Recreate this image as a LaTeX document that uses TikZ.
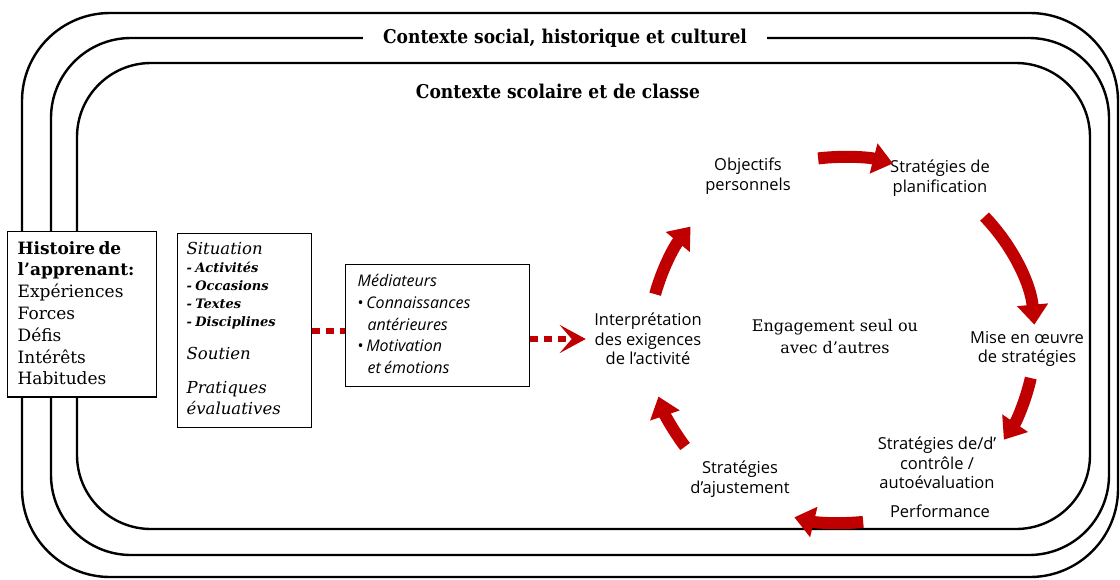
\documentclass[tikz,border=0pt]{standalone}
\usepackage{fontspec}
\setmainfont{DejaVu Serif}
\newfontfamily\titlef{DejaVu Serif Condensed}
\newfontfamily\sansf{Open Sans}
\usetikzlibrary{arrows.meta}
\definecolor{cred}{RGB}{192,0,0}
\newcommand{\fs}[2]{\fontsize{#1}{#2}\selectfont}

\begin{document}
\begin{tikzpicture}[x=1pt, y=-1pt,
		ctx/.style={line width=2.4pt, rounded corners=#1},
		box/.style={draw, line width=1.3pt, fill=white, anchor=north west, align=left, inner ysep=4pt},
		lab/.style={font=\sansf\fs{16.5}{19.5}, align=center},
		cyc/.style={draw=cred, line width=12pt, -{Triangle[length=20pt,width=30pt]}},
		dotl/.style={draw=cred, line width=6pt, dash pattern=on 8pt off 6pt}]
		\useasboundingbox (0,0) rectangle (1120,579);
		
		% contextes
		\draw[ctx=88pt] (22,13) rectangle (1118,577);
		\draw[ctx=80pt] (51,38) rectangle (1109,555);
		\draw[ctx=74pt] (77,63) rectangle (1090,529);
		\draw (565,38) node[fill=white, inner xsep=20pt, font=\titlef\bfseries\fs{19}{22}] (soc) {Contexte social, historique et culturel};
		\draw (558,91) node[font=\titlef\bfseries\fs{19}{22}] (scol) {Contexte scolaire et de classe};
		
		% boites de gauche
		\draw (7,231) node[box, inner xsep=10pt, text width=129pt] (hist) {\bfseries\fs{17}{21.8}\rule{0pt}{18.5pt}Histoire de\par l’apprenant:\par
			\mdseries Expériences\par Forces\par Défis\par Intérêts\par Habitudes\rule[-8pt]{0pt}{8pt}\par};
		\draw (177,233) node[box, inner xsep=9pt, text width=116pt] (sit) {\itshape\fs{16.5}{21}\rule{0pt}{17pt}Situation\par
			\bfseries\fs{13}{18}- Activités\par - Occasions\par - Textes\par - Disciplines\par
			\mdseries\fs{16.5}{33}Soutien\par \fs{16.5}{34}Pratiques\par \fs{16.5}{21}évaluatives\rule[-9pt]{0pt}{9pt}\par};
		\draw (345,264) node[box, inner xsep=12pt, text width=160pt] (med) {\sansf\itshape\fs{16}{21.7}\rule{0pt}{18pt}Médiateurs\par
			{\upshape\textbullet}\,Connaissances\par \hspace*{10pt}antérieures\par
			{\upshape\textbullet}\,Motivation\par \hspace*{10pt}et émotions\rule[-9pt]{0pt}{9pt}\par};
		
		% cycle
		\draw (648,339) node[lab] (interp) {Interprétation\\des exigences\\de l’activité};
		\draw (748,176) node[lab] (obj) {Objectifs\\personnels};
		\draw (940,178) node[lab] (plan) {Stratégies de\\planification};
		\draw (1027,349) node[lab] (mise) {Mise en œuvre\\de stratégies};
		\draw (937,463) node[lab] (ctrl) {Stratégies de/d’\\contrôle /\\autoévaluation};
		\draw (940,511) node[lab] (perf) {Performance};
		\draw (740,479) node[lab] (ajust) {Stratégies\\d’ajustement};
		\draw (835,337) node[font=\fs{16}{22}, align=center] (eng) {Engagement seul ou\\avec d’autres};
		
		\draw[dotl] (sit.east) -- (sit.east -| med.west);
		\draw[dotl, -{Stealth[length=26pt,width=28pt,inset=12pt]}, shorten >=5pt] (med.east |- interp) -- (interp.west);
		
		\coordinate (cc) at (842,340);
		\foreach \a/\b in {262.9/285.3, 317.6/355.2, 12/33, 83.7/104.3, 144.4/162, 194.5/218.3}
			\draw[cyc] ([shift={(\a:193 and 183)}]cc) arc[start angle=\a, end angle=\b, x radius=193, y radius=183];
	\end{tikzpicture}
\end{document}
